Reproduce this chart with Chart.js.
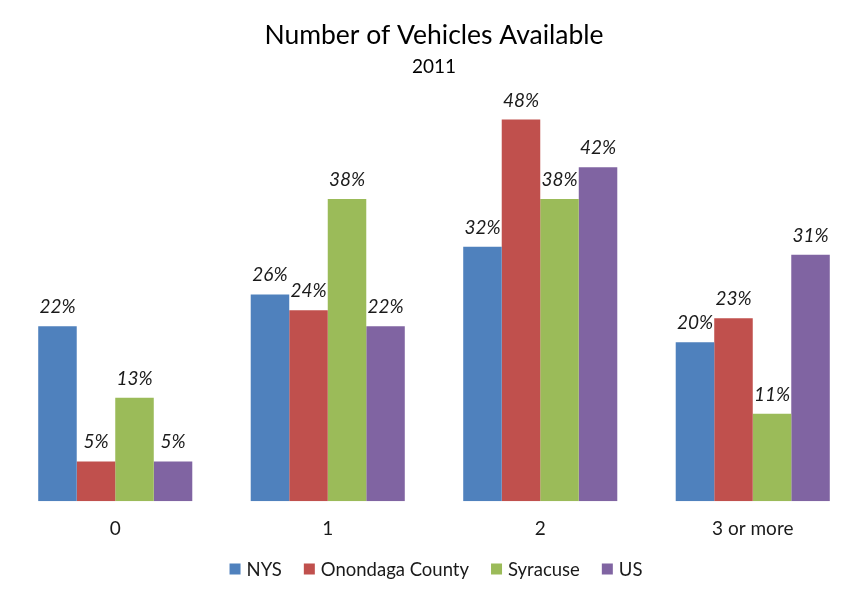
<!DOCTYPE html>
<html>
<head>
<meta charset="utf-8">
<script src="https://cdn.jsdelivr.net/npm/chart.js@4/dist/chart.umd.min.js"></script>
<style>
html,body{margin:0;padding:0;background:#fff;}
#wrap{width:864px;height:600px;}
</style>
</head>
<body>
<div id="wrap"><canvas id="c" width="864" height="600"></canvas></div>
<script>
const categories = ['0', '1', '2', '3 or more'];
const nys = [22, 26, 32, 20];
const onondaga = [5, 24, 48, 23];
const syracuse = [13, 38, 38, 11];
const us = [5, 22, 42, 31];
const seriesNames = ['NYS', 'Onondaga County', 'Syracuse', 'US'];
const seriesColors = ['#4F81BD', '#C0504D', '#9BBB59', '#8064A2'];

const FONT = 'Lato, "Open Sans", sans-serif';

const labelPlugin = {
  id: 'valueLabels',
  afterDatasetsDraw(chart) {
    const ctx = chart.ctx;
    ctx.save();
    ctx.font = 'italic 19px ' + FONT;
    ctx.fillStyle = '#1a1a1a';
    ctx.textAlign = 'center';
    ctx.textBaseline = 'alphabetic';
    chart.data.datasets.forEach((ds, i) => {
      const meta = chart.getDatasetMeta(i);
      meta.data.forEach((bar, j) => {
        ctx.fillText(ds.data[j] + '%', bar.x, bar.y - 13);
      });
    });
    ctx.restore();
  }
};

const legendPlugin = {
  id: 'customLegend',
  afterDraw(chart) {
    const ctx = chart.ctx;
    ctx.save();
    ctx.font = '18.5px ' + FONT;
    ctx.textBaseline = 'middle';
    ctx.textAlign = 'left';
    const box = 11, gapText = 6, gapItem = 22, cy = 569;
    const items = chart.data.datasets.map(ds => ({
      label: ds.label, color: ds.backgroundColor, w: ctx.measureText(ds.label).width
    }));
    let total = items.reduce((s, it) => s + box + gapText + it.w, 0) + gapItem * (items.length - 1);
    let x = (chart.width - total) / 2 + 4;
    items.forEach(it => {
      ctx.fillStyle = it.color;
      ctx.fillRect(x, cy - box / 2, box, box);
      x += box + gapText;
      ctx.fillStyle = '#1a1a1a';
      ctx.fillText(it.label, x, cy + 1);
      x += it.w + gapItem;
    });
    ctx.restore();
  }
};

const allSeries = [nys, onondaga, syracuse, us];
new Chart(document.getElementById('c'), {
  type: 'bar',
  data: {
    labels: categories,
    datasets: allSeries.map((d, i) => ({
      label: seriesNames[i],
      data: d,
      backgroundColor: seriesColors[i],
      borderWidth: 0,
      barPercentage: 1,
      categoryPercentage: 0.725
    }))
  },
  options: {
    responsive: false,
    animation: false,
    layout: { padding: { left: 9, right: 5, top: 20, bottom: 44 } },
    scales: {
      x: {
        grid: { display: false, drawTicks: false },
        border: { display: false },
        ticks: { color: '#1a1a1a', font: { family: FONT, size: 19 }, padding: 16 }
      },
      y: {
        display: false,
        min: 0,
        max: 50
      }
    },
    plugins: {
      title: {
        display: true,
        text: 'Number of Vehicles Available',
        color: '#000',
        font: { family: FONT, size: 26.5, weight: 'normal' },
        padding: { top: 0, bottom: 2 }
      },
      subtitle: {
        display: true,
        text: '2011',
        color: '#000',
        font: { family: FONT, size: 19, weight: 'normal' },
        padding: { top: 2, bottom: 25 }
      },
      legend: { display: false },
      tooltip: { enabled: false }
    }
  },
  plugins: [labelPlugin, legendPlugin]
});
</script>
</body>
</html>
